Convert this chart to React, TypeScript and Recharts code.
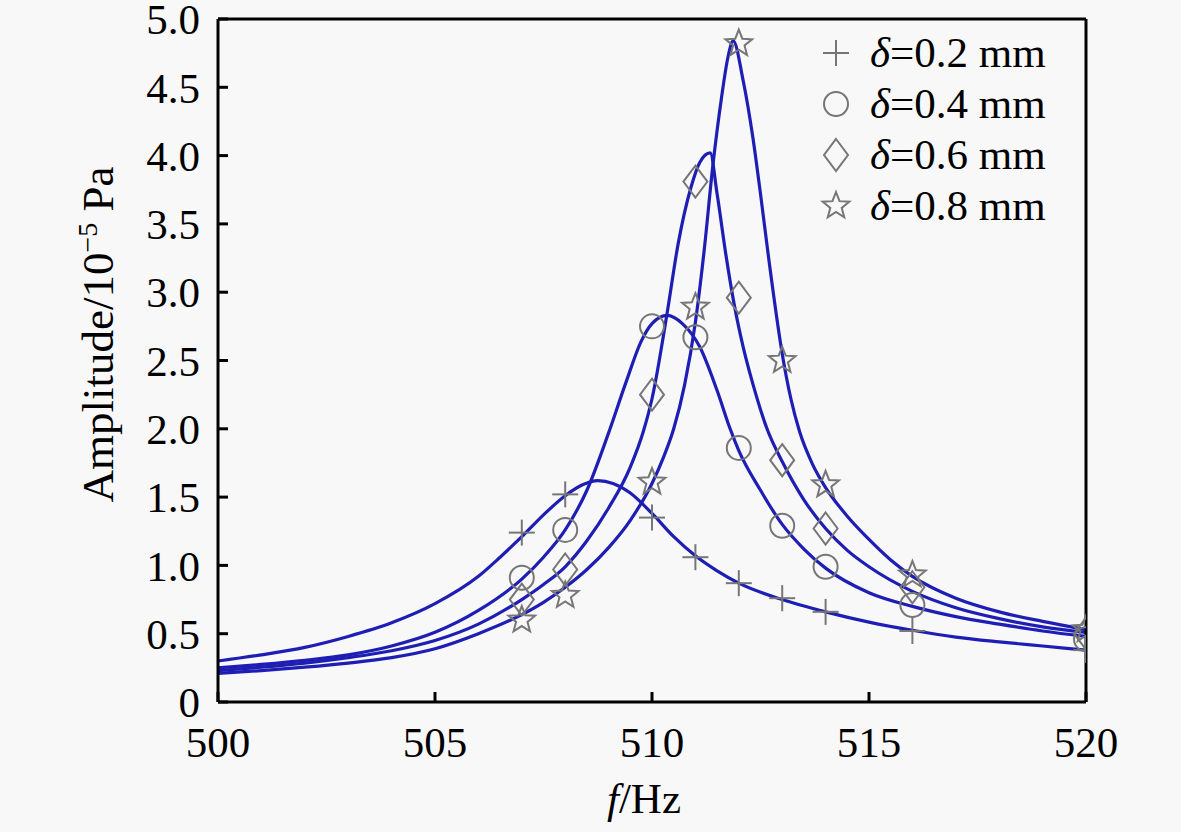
import React from 'react';
import { ComposedChart, Line, Scatter, XAxis, YAxis, Legend } from 'recharts';

// axis ticks
const xTicks = [500, 505, 510, 515, 520];
const yTicks = [0, 0.5, 1, 1.5, 2, 2.5, 3, 3.5, 4, 4.5, 5];

// gap widths (mm) shown in the legend
const gapLabels = ['0.2', '0.4', '0.6', '0.8'];

// measured points (markers)
const measFreq = [507, 508, 510, 511, 512, 513, 514, 516, 520];
const meas02 = [1.24, 1.52, 1.35, 1.06, 0.87, 0.76, 0.66, 0.52, 0.38];
const meas04 = [0.91, 1.26, 2.75, 2.67, 1.86, 1.29, 0.99, 0.71, 0.46];
const meas06 = [0.75, 0.97, 2.25, 3.81, 2.96, 1.77, 1.27, 0.84, 0.5];
const meas08 = [0.6, 0.78, 1.61, 2.89, 4.82, 2.5, 1.59, 0.93, 0.53];

// computed curves
const fitFreq02 = [500, 501, 502, 503, 504, 505, 506, 506.5, 507, 507.5, 508, 508.4, 508.75, 509.1, 509.5, 510, 510.5, 511, 511.5, 512, 513, 514, 515, 516, 517, 518, 519, 520];
const fitAmp02 = [0.3, 0.345, 0.4, 0.48, 0.58, 0.72, 0.92, 1.06, 1.21, 1.37, 1.51, 1.59, 1.62, 1.6, 1.53, 1.38, 1.21, 1.07, 0.96, 0.87, 0.75, 0.66, 0.585, 0.525, 0.475, 0.44, 0.41, 0.38];

const fitFreq04 = [500, 501, 502, 503, 504, 505, 506, 507, 507.5, 508, 508.5, 509, 509.4, 509.75, 510, 510.35, 510.7, 511.1, 511.5, 511.8, 512, 512.5, 513, 513.5, 514, 515, 516, 517, 518, 519, 520];
const fitAmp04 = [0.25, 0.275, 0.305, 0.345, 0.41, 0.51, 0.67, 0.9, 1.06, 1.26, 1.55, 1.97, 2.34, 2.64, 2.77, 2.83, 2.77, 2.6, 2.28, 2.0, 1.84, 1.55, 1.3, 1.12, 0.98, 0.8, 0.7, 0.625, 0.57, 0.52, 0.48];

const fitFreq06 = [500, 501, 502, 503, 504, 505, 506, 507, 507.5, 508, 508.5, 509, 509.5, 509.8, 510, 510.35, 510.6, 510.9, 511.1, 511.34, 511.5, 511.7, 511.9, 512.1, 512.35, 512.65, 513, 513.5, 514, 514.5, 515, 516, 517, 518, 519, 520];
const fitAmp06 = [0.23, 0.255, 0.285, 0.325, 0.375, 0.45, 0.57, 0.75, 0.86, 0.99, 1.18, 1.42, 1.72, 1.98, 2.22, 2.85, 3.35, 3.77, 3.95, 4.02, 3.72, 3.28, 2.9, 2.6, 2.3, 2.0, 1.76, 1.48, 1.27, 1.11, 0.99, 0.81, 0.69, 0.61, 0.55, 0.51];

const fitFreq08 = [500, 501, 502, 503, 504, 505, 506, 507, 507.5, 508, 508.5, 509, 509.5, 510, 510.25, 510.5, 510.75, 511, 511.2, 511.4, 511.6, 511.75, 511.87, 512.1, 512.33, 512.5, 512.7, 513, 513.2, 513.4, 513.7, 514, 514.5, 515, 515.5, 516, 517, 518, 519, 520];
const fitAmp08 = [0.21, 0.23, 0.255, 0.285, 0.325, 0.39, 0.5, 0.64, 0.73, 0.84, 0.97, 1.13, 1.33, 1.6, 1.78, 2.0, 2.32, 2.78, 3.3, 3.92, 4.42, 4.72, 4.84, 4.55, 4.12, 3.72, 3.22, 2.55, 2.22, 1.98, 1.74, 1.57, 1.36, 1.19, 1.04, 0.92, 0.76, 0.66, 0.59, 0.53];

const zip = (fs: number[], as: number[]) => fs.map((f, i) => ({ f, a: as[i] }));

const FONT = '"Liberation Serif", "Times New Roman", serif';
const MARK = '#767676';
const CURVE = '#1e1eb4';

const PlusMark = ({ cx, cy }: any) => (
  <g stroke={MARK} strokeWidth={2} fill="none">
    <line x1={cx - 13} y1={cy} x2={cx + 13} y2={cy} />
    <line x1={cx} y1={cy - 13} x2={cx} y2={cy + 13} />
  </g>
);

const CircleMark = ({ cx, cy }: any) => (
  <circle cx={cx} cy={cy} r={12} stroke={MARK} strokeWidth={2} fill="none" />
);

const DiamondMark = ({ cx, cy }: any) => (
  <polygon
    points={`${cx},${cy - 16} ${cx + 12},${cy} ${cx},${cy + 16} ${cx - 12},${cy}`}
    stroke={MARK}
    strokeWidth={2}
    fill="none"
  />
);

const StarMark = ({ cx, cy }: any) => {
  const pts: string[] = [];
  for (let i = 0; i < 10; i++) {
    const r = i % 2 === 0 ? 14 : 6;
    const ang = -Math.PI / 2 + (i * Math.PI) / 5;
    pts.push(`${cx + r * Math.cos(ang)},${cy + r * Math.sin(ang)}`);
  }
  return <polygon points={pts.join(' ')} stroke={MARK} strokeWidth={2} fill="none" />;
};

const marks = [PlusMark, CircleMark, DiamondMark, StarMark];

const LegendBox = () => (
  <div style={{ fontFamily: FONT, fontSize: 43, color: '#000' }}>
    {gapLabels.map((g, i) => {
      const Mark = marks[i];
      return (
        <div key={g} style={{ display: 'flex', alignItems: 'center', height: 51 }}>
          <svg width={40} height={40}>
            <Mark cx={20} cy={20} />
          </svg>
          <span style={{ marginLeft: 14, whiteSpace: 'nowrap' }}>
            <i>δ</i>={g} mm
          </span>
        </div>
      );
    })}
  </div>
);

const YTitle = ({ viewBox }: any) => {
  const x = viewBox.x + viewBox.width / 2 + 4;
  const y = viewBox.y + viewBox.height / 2 - 26;
  return (
    <text
      transform={`translate(${x}, ${y}) rotate(-90)`}
      textAnchor="middle"
      fontFamily={FONT}
      fontSize={45}
      fill="#000"
    >
      <tspan>Amplitude/10</tspan>
      <tspan dy={-16} fontSize={28}>−5</tspan>
      <tspan dy={16}> Pa</tspan>
    </text>
  );
};

const XTitle = ({ viewBox }: any) => {
  const x = viewBox.x + viewBox.width / 2 - 8;
  return (
    <text x={x} y={813} textAnchor="middle" fontFamily={FONT} fontSize={43} fill="#000">
      <tspan fontStyle="italic">f</tspan>
      <tspan>/Hz</tspan>
    </text>
  );
};

const tickStyle = { fontFamily: FONT, fontSize: 43, fill: '#000' };

const App: React.FC = () => {
  const measured = [meas02, meas04, meas06, meas08];
  const fits = [
    zip(fitFreq02, fitAmp02),
    zip(fitFreq04, fitAmp04),
    zip(fitFreq06, fitAmp06),
    zip(fitFreq08, fitAmp08),
  ];
  return (
    <div style={{ position: 'absolute', left: 0, top: 0, width: 1181, height: 832, background: '#f8f8f8' }}>
      <ComposedChart width={1181} height={832} margin={{ top: 18, right: 94, bottom: 0, left: 0 }}>
        <XAxis
          dataKey="f"
          type="number"
          domain={[500, 520]}
          allowDataOverflow
          ticks={xTicks}
          interval={0}
          height={130}
          tickSize={-10}
          tickMargin={34}
          axisLine={{ stroke: '#000', strokeWidth: 3 }}
          tickLine={{ stroke: '#000', strokeWidth: 3 }}
          tick={tickStyle}
          label={{ content: XTitle }}
        />
        <XAxis
          xAxisId="top"
          orientation="top"
          type="number"
          domain={[500, 520]}
          allowDataOverflow
          ticks={xTicks}
          interval={0}
          height={1}
          tickSize={-10}
          tick={false}
          axisLine={{ stroke: '#000', strokeWidth: 3 }}
          tickLine={{ stroke: '#000', strokeWidth: 3 }}
        />
        <YAxis
          dataKey="a"
          type="number"
          domain={[0, 5]}
          allowDataOverflow
          ticks={yTicks}
          interval={0}
          width={218}
          tickSize={-10}
          tickMargin={28}
          tickFormatter={(v: number) => (v === 0 ? '0' : v.toFixed(1))}
          axisLine={{ stroke: '#000', strokeWidth: 3 }}
          tickLine={{ stroke: '#000', strokeWidth: 3 }}
          tick={tickStyle}
          label={{ content: YTitle }}
        />
        <YAxis
          yAxisId="right"
          orientation="right"
          type="number"
          domain={[0, 5]}
          allowDataOverflow
          ticks={yTicks}
          interval={0}
          width={1}
          tickSize={-10}
          tick={false}
          axisLine={{ stroke: '#000', strokeWidth: 3 }}
          tickLine={{ stroke: '#000', strokeWidth: 3 }}
        />
        <Legend
          layout="vertical"
          align="center"
          verticalAlign="middle"
          content={<LegendBox />}
          wrapperStyle={{ position: 'absolute', left: 816, top: 27, width: 270 }}
        />
        {measured.map((vals, i) => {
          const Mark = marks[i];
          return (
            <Scatter
              key={`m${i}`}
              name={`meas${gapLabels[i]}`}
              data={zip(measFreq, vals)}
              shape={(p: any) => <Mark cx={p.cx} cy={p.cy} />}
              isAnimationActive={false}
              legendType="none"
            />
          );
        })}
        {fits.map((d, i) => (
          <Line
            key={`c${i}`}
            name={`fit${gapLabels[i]}`}
            data={d}
            dataKey="a"
            type="monotone"
            stroke={CURVE}
            strokeWidth={3.2}
            dot={false}
            activeDot={false}
            isAnimationActive={false}
            legendType="none"
          />
        ))}
      </ComposedChart>
    </div>
  );
};

export default App;
